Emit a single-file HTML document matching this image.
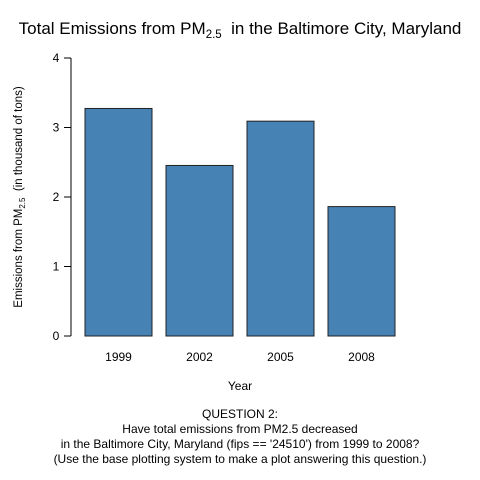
<!DOCTYPE html>
<html><head><meta charset="utf-8"><style>
body{margin:0;background:#fff}
svg{display:block;font-family:"Liberation Sans",Arial,sans-serif}
</style></head><body>
<svg id="c" width="480" height="480">
<text x="240" y="34" font-size="17" text-anchor="middle" xml:space="preserve">Total Emissions from PM<tspan font-size="11.5" dy="4">2.5</tspan><tspan dy="-4">  in the Baltimore City, Maryland</tspan></text>
<line x1="71" y1="58" x2="71" y2="336" stroke="#000"/>
<g id="yt"></g>
<g id="bars"></g>
<g id="xl"></g>
<text transform="translate(22,197) rotate(-90)" font-size="11.5" text-anchor="middle" xml:space="preserve">Emissions from PM<tspan font-size="8" dy="3">2.5</tspan><tspan dy="-3">  (in thousand of tons)</tspan></text>
<text x="240" y="390" font-size="12" text-anchor="middle">Year</text>
<g font-size="12" text-anchor="middle">
<text x="240" y="418">QUESTION 2:</text>
<text x="240" y="433">Have total emissions from PM2.5 decreased</text>
<text x="240" y="448">in the Baltimore City, Maryland (fips == '24510') from 1999 to 2008?</text>
<text x="240" y="463">(Use the base plotting system to make a plot answering this question.)</text>
</g>
</svg>
<script>
const categories=["1999","2002","2005","2008"];
const values=[3.274,2.454,3.091,1.862];
const yTicks=[0,1,2,3,4];
const NS="http://www.w3.org/2000/svg";
const y=v=>336-v*69.5;
const x=i=>85+i*81;
function mk(t,a,p){const e=document.createElementNS(NS,t);for(const k in a)e.setAttribute(k,a[k]);p.appendChild(e);return e;}
const yt=document.getElementById('yt');
yTicks.forEach(t=>{
 const l=mk('line',{x1:64,x2:71,y1:y(t),y2:y(t),stroke:'#000'},yt);
 
 
 const tx=mk('text',{x:56,y:y(t)+4,'font-size':12,'text-anchor':'middle'},yt);
 tx.textContent=t;
 
 
});
const bg=document.getElementById('bars'),xl=document.getElementById('xl');
values.forEach((v,i)=>{
 const r=mk('rect',{x:x(i),y:y(v),width:67,height:y(0)-y(v),fill:'#4682b4',stroke:'#222','stroke-width':1},bg);
 
 
 const t=mk('text',{x:x(i)+33.5,y:361,'font-size':12,'text-anchor':'middle'},xl);
 t.textContent=categories[i];
 
 
});
</script>
</body></html>
